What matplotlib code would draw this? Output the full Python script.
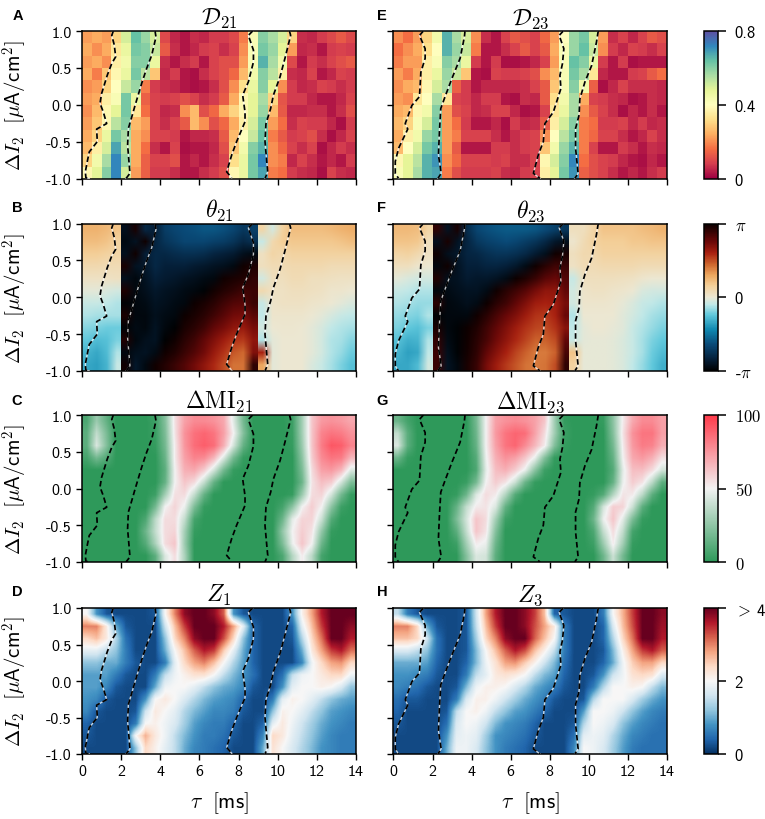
import matplotlib
matplotlib.use("Agg")
import numpy as np
from matplotlib import pyplot as plt
from matplotlib.colors import LinearSegmentedColormap

plt.rcParams['mathtext.fontset'] = 'cm'
plt.rcParams['font.family'] = ['cmss10', 'DejaVu Sans']
plt.rcParams['axes.unicode_minus'] = False

# every grid: 12 rows from dI2 = 1 down to -1, 28 columns from tau = 0 to 14
# D in 0.01 units
D21 = [
    [22,24,22,30,50,64,58,50,10,5,3,6,5,8,8,10,18,42,60,56,50,30,6,5,8,10,13,10],
    [24,20,24,34,46,62,60,52,13,6,3,5,8,9,6,9,20,42,62,58,48,22,5,6,3,8,9,8],
    [22,24,20,36,44,60,60,46,6,3,6,8,3,9,11,11,22,42,66,56,44,10,3,8,6,9,11,13],
    [24,18,28,38,46,62,54,28,5,8,3,2,6,9,11,15,26,44,60,54,36,6,5,9,3,5,9,8],
    [20,22,30,40,52,58,18,8,6,5,3,2,3,6,11,20,32,46,60,48,20,8,5,6,9,8,6,8],
    [22,24,36,42,62,46,14,9,8,9,11,9,6,8,13,24,38,48,56,30,12,8,8,5,3,3,5,9],
    [20,26,38,48,62,34,16,9,5,6,20,26,11,15,24,30,38,48,58,26,13,5,5,6,6,3,6,11],
    [22,28,38,54,60,26,22,9,6,9,13,26,20,11,15,24,36,50,62,22,16,6,9,8,8,5,2,8],
    [24,30,46,62,56,24,20,9,9,8,3,5,5,6,13,26,40,52,64,18,13,8,9,11,6,2,5,9],
    [26,36,50,68,54,24,16,6,3,9,2,3,3,5,11,28,44,60,66,20,15,9,6,9,2,5,8,6],
    [30,44,56,72,58,24,14,9,9,11,3,5,3,6,9,32,46,62,72,20,18,5,9,6,3,5,3,8],
    [38,48,60,72,50,22,14,8,8,6,3,3,6,8,11,38,46,62,68,18,16,8,6,5,2,9,6,5],
]
D23 = [
    [20,16,22,30,44,66,56,50,20,6,3,9,13,11,9,15,22,40,58,62,50,22,6,9,5,9,13,11],
    [16,20,24,32,40,66,58,52,18,3,3,6,9,13,9,13,24,42,58,64,52,20,8,5,9,8,6,9],
    [18,22,22,36,42,60,56,46,8,3,8,2,2,3,5,9,22,42,64,60,46,8,3,8,2,3,3,3],
    [22,18,24,36,46,58,52,28,3,2,9,8,8,9,11,20,26,42,62,56,34,5,3,3,8,9,13,16],
    [20,24,26,38,50,56,14,8,3,5,5,5,5,6,9,13,28,42,60,44,14,2,5,9,6,6,6,5],
    [22,20,34,40,56,34,9,8,5,8,8,3,2,6,5,13,32,44,56,24,9,8,6,5,2,3,6,5],
    [24,26,38,44,60,22,11,9,5,6,9,9,5,2,3,9,34,46,56,20,13,9,6,2,5,3,6,3],
    [26,30,42,50,62,22,16,8,3,3,5,2,8,5,6,13,36,50,60,18,16,8,8,9,5,8,5,6],
    [24,36,44,58,62,22,18,9,9,9,6,3,6,8,9,20,40,54,62,18,15,9,9,6,3,5,9,6],
    [26,40,50,62,66,22,13,3,3,3,8,8,6,8,9,28,44,58,66,18,9,3,3,8,6,3,6,5],
    [38,48,54,66,70,20,15,9,9,9,8,9,6,6,9,38,50,60,72,16,11,9,8,5,3,2,5,3],
    [42,48,56,66,68,18,11,8,8,8,9,6,5,8,9,36,48,62,70,14,11,9,6,3,5,3,6,8],
]

# theta in percent of pi
THETA21 = [
    [26,26,24,20,-92,96,-80,-85,-70,-66,-64,-62,-60,-60,-62,-66,-72,-68,12,-6,14,22,22,22,22,24,26,28],
    [22,22,20,14,-95,-90,98,-82,-74,-70,-66,-66,-66,-68,-70,-74,-80,-76,-8,10,16,18,18,18,18,18,20,22],
    [16,16,14,12,-92,98,-85,-80,-80,-78,-76,-76,-78,-82,-84,-86,-92,-95,5,12,10,14,14,14,14,14,14,14],
    [10,10,8,8,96,-90,-88,-80,-84,-84,-84,-86,-88,-90,-92,-95,98,95,6,8,8,10,10,10,10,8,8,8],
    [4,4,4,5,-92,-96,-90,-84,-86,-88,-90,-92,-94,-96,98,96,94,90,-6,6,6,8,8,6,6,5,4,4],
    [-2,-2,-4,-6,95,-95,-92,-88,-90,-92,-94,-96,-98,97,93,90,86,88,10,4,4,6,6,5,4,2,2,0],
    [-8,-8,-10,-12,-98,-96,-94,-90,-92,-94,-96,99,96,92,86,82,80,88,-8,3,4,4,4,3,2,0,-2,-4],
    [-12,-14,-14,-14,96,-96,-96,-92,-94,-96,99,96,92,86,80,74,72,80,-10,2,2,2,2,0,-2,-5,-8,-10],
    [-18,-20,-22,-22,-98,-94,-96,-90,-96,-99,96,92,86,78,72,66,64,72,-6,0,1,1,0,-2,-5,-10,-12,-14],
    [-24,-28,-26,-20,94,-96,-92,-90,-99,98,92,86,78,70,62,56,54,66,-12,-2,0,0,0,-2,-6,-12,-14,-18],
    [-30,-34,-28,-12,-96,-92,-90,-94,98,94,88,82,74,64,56,48,44,70,60,-2,0,0,0,-2,-6,-12,-16,-22],
    [-34,-36,-30,-8,98,-88,-95,98,93,88,82,74,66,58,50,42,42,90,30,-2,0,0,0,-4,-8,-14,-20,-26],
]
THETA23 = [
    [24,24,22,12,90,-90,96,-78,-66,-62,-60,-58,-58,-58,-60,-64,-68,-72,6,6,12,20,20,20,20,22,24,26],
    [20,20,18,6,-92,96,-90,-82,-72,-68,-66,-64,-66,-70,-74,-80,-88,-92,2,8,14,16,16,16,18,18,20,20],
    [12,14,10,4,98,-92,-88,-82,-80,-76,-74,-74,-76,-80,-86,-92,98,96,6,10,10,14,14,14,14,14,14,14],
    [6,6,2,0,-96,98,-90,-84,-84,-82,-82,-84,-88,-94,98,92,86,88,4,8,8,10,10,10,10,8,8,8],
    [-2,-4,-6,-6,94,-92,-90,-86,-88,-88,-90,-94,99,94,88,80,76,82,-8,6,6,6,6,5,4,2,0,0],
    [-8,-10,-12,-12,-96,-94,-92,-90,-90,-94,98,92,86,80,72,66,66,78,-6,3,4,4,3,2,0,-4,-6,-6],
    [-12,-14,-16,-16,92,-96,-94,-92,-94,99,92,86,78,70,62,60,62,72,-6,2,2,2,1,-1,-4,-8,-10,-12],
    [-16,-18,-20,-12,-98,-96,-96,-96,98,92,84,76,70,62,56,54,60,76,-12,0,0,0,0,-3,-6,-10,-14,-16],
    [-20,-24,-26,-20,96,-96,-98,99,94,86,78,70,62,56,52,50,56,68,-10,-2,0,0,-1,-3,-8,-12,-16,-20],
    [-26,-32,-30,-12,90,-94,-98,98,92,84,74,66,58,52,46,46,50,78,-8,-2,-1,-1,-2,-4,-8,-14,-20,-24],
    [-30,-36,-34,-10,88,-92,-98,97,90,78,68,60,52,46,40,40,46,84,20,-1,-1,-1,-2,-4,-8,-14,-22,-28],
    [-34,-34,-28,-6,88,-90,-96,96,88,72,62,54,48,42,40,42,50,90,14,-1,-1,-1,-2,-4,-10,-16,-24,-32],
]

MI21 = [
    [8,28,14,0,0,0,0,4,22,55,72,78,78,76,70,45,18,0,0,0,0,4,30,62,74,76,74,70],
    [12,38,20,0,0,0,0,3,20,54,76,85,88,84,72,50,22,0,0,0,0,3,30,62,80,84,82,76],
    [12,44,22,0,0,0,0,2,18,52,75,86,90,86,68,42,14,0,0,0,0,2,28,62,82,92,90,80],
    [6,18,10,0,0,0,0,0,15,52,72,80,78,66,44,18,2,0,0,0,0,0,24,60,78,84,82,66],
    [0,0,0,0,0,0,0,0,12,50,68,70,60,42,18,2,0,0,0,0,0,0,20,56,72,74,66,44],
    [0,0,0,0,0,0,0,0,14,50,62,56,38,14,0,0,0,0,0,0,0,0,16,54,64,60,42,20],
    [0,0,0,0,0,0,0,4,30,55,56,38,14,0,0,0,0,0,0,0,0,2,28,56,58,42,18,2],
    [0,0,0,0,0,0,0,18,50,58,48,20,2,0,0,0,0,0,0,0,6,24,50,60,50,24,4,0],
    [0,0,0,0,0,0,8,36,56,56,38,6,0,0,0,0,0,0,0,0,16,46,58,58,40,10,0,0],
    [0,0,0,0,0,0,16,38,56,58,30,2,0,0,0,0,0,0,0,0,26,50,60,54,26,2,0,0],
    [0,0,0,0,0,0,10,32,56,62,28,0,0,0,0,0,0,0,0,0,20,48,62,50,16,0,0,0],
    [0,0,0,0,0,0,0,12,44,56,32,0,0,0,0,0,0,0,0,0,8,34,52,36,6,0,0,0],
]
MI23 = [
    [16,6,0,0,0,0,0,0,18,50,72,76,78,76,72,62,30,2,0,0,0,2,24,52,70,78,78,72],
    [38,12,0,0,0,0,0,0,16,50,74,84,88,86,72,56,30,4,0,0,0,0,22,54,76,84,84,72],
    [44,12,0,0,0,0,0,0,14,50,72,84,88,78,66,52,22,2,0,0,0,0,18,52,74,82,80,68],
    [16,2,0,0,0,0,0,0,10,48,68,76,72,62,48,22,2,0,0,0,0,0,14,50,70,74,68,55],
    [0,0,0,0,0,0,0,0,8,46,64,68,60,48,24,4,0,0,0,0,0,0,10,46,64,64,56,42],
    [0,0,0,0,0,0,0,3,18,50,60,54,40,16,2,0,0,0,0,0,0,0,14,48,60,54,36,12],
    [0,0,0,0,0,0,2,16,44,56,52,34,10,0,0,0,0,0,0,0,2,10,34,54,52,36,12,0],
    [0,0,0,0,0,0,14,38,52,54,44,14,0,0,0,0,0,0,0,0,10,42,60,58,40,12,0,0],
    [0,0,0,0,0,0,20,42,62,56,30,4,0,0,0,0,0,0,0,0,16,48,62,46,20,2,0,0],
    [0,0,0,0,0,0,12,38,62,54,22,0,0,0,0,0,0,0,0,0,8,38,56,38,6,0,0,0],
    [0,0,0,0,0,0,4,30,52,48,16,0,0,0,0,0,0,0,0,0,4,28,52,30,2,0,0,0],
    [0,0,0,0,0,0,0,22,44,42,12,0,0,0,0,0,0,0,0,0,0,16,40,18,0,0,0,0],
]

# Z in 0.1 units
Z1 = [
    [20,8,3,2,2,2,2,3,20,30,38,40,40,38,32,8,3,2,2,2,2,8,21,28,36,40,40,40],
    [30,30,22,10,3,2,2,2,16,26,34,40,40,40,36,28,18,4,2,2,2,4,18,26,34,40,40,38],
    [24,26,22,14,5,2,2,2,12,24,30,38,40,40,33,24,12,4,2,2,2,3,14,24,31,40,40,36],
    [18,18,15,12,6,2,2,2,10,20,26,32,36,34,25,18,10,4,2,2,2,2,10,22,28,34,36,31],
    [12,12,10,10,6,3,2,2,6,18,24,28,30,26,20,14,9,4,2,2,2,2,7,19,24,28,29,24],
    [9,9,9,6,3,2,2,6,15,19,21,23,23,20,15,11,8,5,2,2,5,15,19,20,22,24,24,19],
    [9,9,7,3,2,2,2,10,19,20,20,18,15,12,10,9,7,3,2,2,8,18,20,20,21,20,17,12],
    [8,7,3,2,2,2,8,20,22,20,17,14,11,9,8,7,4,2,2,6,18,21,20,18,15,12,10,9],
    [7,3,2,2,2,3,16,22,20,18,14,11,9,7,7,6,3,2,2,12,21,20,18,15,12,9,8,7],
    [4,2,2,2,2,6,20,21,19,17,13,9,7,6,6,4,2,2,4,18,22,19,16,13,10,8,7,6],
    [3,2,2,2,2,20,27,22,19,15,11,8,6,6,5,3,2,2,7,24,22,18,15,12,9,7,6,6],
    [2,2,2,2,2,12,24,21,18,15,10,7,6,5,4,2,2,2,10,23,20,17,14,11,8,7,6,6],
]
Z3 = [
    [15,6,3,2,2,2,2,3,16,28,36,40,40,38,34,26,4,3,2,2,2,6,20,27,34,40,40,38],
    [30,30,24,10,3,2,2,3,15,26,34,40,40,38,33,28,22,6,2,2,2,4,17,26,33,40,40,37],
    [26,26,24,16,5,2,2,3,13,24,30,38,40,40,32,26,20,6,2,2,2,4,14,24,31,40,40,36],
    [17,17,15,12,5,2,2,3,11,20,26,32,36,33,26,21,15,6,2,2,2,3,11,21,28,34,36,32],
    [10,10,10,9,4,2,2,4,11,19,23,28,29,25,21,16,11,5,2,2,2,4,10,19,25,28,28,24],
    [8,8,7,6,3,2,2,6,15,18,22,23,22,20,15,11,9,4,2,2,3,8,16,19,23,24,23,17],
    [7,6,5,3,2,2,3,11,19,21,21,20,17,14,10,8,6,3,2,2,6,14,20,20,21,20,15,11],
    [5,3,3,2,2,2,6,17,21,21,19,16,13,10,8,6,3,2,2,3,14,20,20,20,17,13,10,8],
    [4,2,2,2,2,3,15,20,21,19,15,12,9,8,6,4,2,2,2,9,20,20,19,16,12,9,7,6],
    [3,2,2,2,2,5,17,20,19,16,11,8,7,6,4,2,2,2,3,14,20,19,17,12,9,7,6,5],
    [2,2,2,2,2,8,18,19,18,13,8,7,6,5,3,2,2,2,5,18,19,18,14,10,7,6,5,5],
    [2,2,2,2,2,10,19,19,17,12,8,6,5,4,2,2,2,2,7,20,19,17,13,9,6,5,5,5],
]

# dashed contours as (tau, dI2)
LEFT_C1 = [(1.6,1),(1.52,.94),(1.65,.81),(1.72,.65),(1.52,.56),(1.29,.4),(1.0,.15),(.92,.02),(1.09,-.1),(1.26,-.255),(.75,-.33),(.78,-.5),(.37,-.64),(.27,-.77),(.17,-.91),(.2,-.99),(.37,-1)]
LEFT_C2 = [(3.73,1),(3.78,.92),(3.56,.67),(3.3,.49),(3.05,.29),(2.71,-.01),(2.57,-.14),(2.37,-.32),(2.33,-.55),(2.4,-.77),(2.45,-.93),(2.25,-1)]
LEFT_C3 = [(8.72,1),(8.5,.94),(8.76,.74),(8.76,.58),(8.5,.31),(8.21,.13),(8.33,-.1),(8.33,-.23),(7.9,-.5),(7.65,-.68),(7.39,-.91),(7.65,-.99)]
LEFT_C4 = [(10.6,1),(10.66,.94),(10.37,.63),(10.12,.38),(9.78,.13),(9.64,-.05),(9.4,-.255),(9.35,-.5),(9.44,-.77),(9.49,-.91),(9.35,-1)]
RIGHT_C1 = [(1.53,1),(1.33,.94),(1.62,.76),(1.62,.63),(1.4,.44),(1.33,.11),(.94,-.01),(.6,-.255),(.73,-.33),(.26,-.59),(.09,-.77),(.09,-.93),(.26,-1)]
RIGHT_C2 = [(3.66,1),(3.63,.92),(3.41,.63),(2.98,.35),(2.64,.11),(2.42,-.05),(2.35,-.37),(2.3,-.68),(2.44,-.93),(2.27,-1)]
RIGHT_C3 = [(8.69,1),(8.48,.94),(8.72,.76),(8.65,.56),(8.52,.4),(8.57,.22),(8.18,-.1),(7.75,-.255),(7.67,-.5),(7.41,-.68),(7.16,-.93),(7.5,-1)]
RIGHT_C4 = [(10.48,1),(10.39,.85),(10.14,.53),(9.8,.31),(9.54,.08),(9.5,-.14),(9.32,-.32),(9.32,-.59),(9.45,-.93),(9.28,-1)]

X_TICKS = [0, 2, 4, 6, 8, 10, 12, 14]
Y_TICKS = [-1.0, -0.5, 0.0, 0.5, 1.0]
Y_LABELS = ['-1.0', '-0.5', '0.0', '0.5', '1.0']

THETA_COLORS = [(0, '#000000'), (.08, '#05203a'), (.18, '#0a4a78'), (.28, '#1088b0'),
                (.38, '#60c8dc'), (.45, '#c0e8e8'), (.5, '#ece8d4'), (.58, '#f4cf98'),
                (.65, '#eda860'), (.72, '#d06a30'), (.8, '#a82010'), (.88, '#6a0808'),
                (1, '#0a0000')]
theta_cmap = LinearSegmentedColormap.from_list('theta', THETA_COLORS)
mi_cmap = LinearSegmentedColormap.from_list('mi', ['#2e995a', '#f2f2f2', '#ff3a4a'])

W, H = 765, 820
COL_X = [(82, 356), (393.5, 667)]
ROW_Y = [(32, 179.5), (224.5, 372), (416, 563), (609, 755)]
CB_X = (704, 718)
# the phase jumps at these columns, so smooth each piece on its own
THETA_PIECES = [(0, 4), (4, 18), (18, 28)]


def px_axes(fig, x, y):
    return fig.add_axes([x[0]/W, 1 - y[1]/H, (x[1]-x[0])/W, (y[1]-y[0])/H])


def draw_contours(ax, curves, halo):
    for c in curves:
        c = np.array(c)
        if halo:
            ax.plot(c[:, 0], c[:, 1], color='white', lw=1.0, alpha=0.75, zorder=3)
        ax.plot(c[:, 0], c[:, 1], color='black', lw=1.25, ls=(0, (3.2, 1.8)), zorder=4)


def heat_panel(fig, col, row, grid, cmap, vmin, vmax, title, interp, curves, halo):
    ax = px_axes(fig, COL_X[col], ROW_Y[row])
    data = np.array(grid, dtype=float)
    if row == 1:
        for a, b in THETA_PIECES:
            im = ax.imshow(data[:, a:b], cmap=cmap, vmin=vmin, vmax=vmax, aspect='auto',
                           extent=[a/2, b/2, -1, 1], origin='upper', interpolation='bilinear',
                           interpolation_stage='rgba')
    else:
        im = ax.imshow(data, cmap=cmap, vmin=vmin, vmax=vmax, aspect='auto',
                       extent=[0, 14, -1, 1], origin='upper', interpolation=interp)
    draw_contours(ax, curves, halo)
    ax.set_xlim(0, 14)
    ax.set_ylim(-1, 1)
    ax.set_xticks(X_TICKS)
    ax.set_yticks(Y_TICKS)
    ax.tick_params(length=4.5, width=1.0, labelsize=11.5, pad=3)
    if row == 3:
        ax.set_xticklabels([str(t) for t in X_TICKS])
        ax.set_xlabel(r'$\tau\ \ [\mathsf{ms}]$', fontsize=15.5, labelpad=8)
    else:
        ax.set_xticklabels([])
    if col == 0:
        ax.set_yticklabels(Y_LABELS)
        ax.set_ylabel(r'$\Delta I_2\ \ [\mu\mathsf{A/cm}^2]$', fontsize=15)
        ax.yaxis.set_label_coords(-0.19, 0.5)
    else:
        ax.set_yticklabels([])
    ax.set_title(title, fontsize=17, pad=5)
    for s in ax.spines.values():
        s.set_linewidth(1.1)
    return im


def colorbar(fig, row, im, ticks, labels, size=12):
    cax = px_axes(fig, CB_X, ROW_Y[row])
    cb = fig.colorbar(im, cax=cax)
    cb.set_ticks(ticks)
    cb.set_ticklabels(labels)
    cax.tick_params(length=6, width=1.1, labelsize=size, pad=6)
    cb.outline.set_linewidth(1.1)


fig = plt.figure(figsize=(W/100, H/100), dpi=100)
left = [LEFT_C1, LEFT_C2, LEFT_C3, LEFT_C4]
right = [RIGHT_C1, RIGHT_C2, RIGHT_C3, RIGHT_C4]

im_d = heat_panel(fig, 0, 0, D21, 'Spectral', 0, 80, r'$\mathcal{D}_{21}$', 'nearest', left, True)
heat_panel(fig, 1, 0, D23, 'Spectral', 0, 80, r'$\mathcal{D}_{23}$', 'nearest', right, True)
im_t = heat_panel(fig, 0, 1, THETA21, theta_cmap, -100, 100, r'$\theta_{21}$', 'bilinear', left, True)
heat_panel(fig, 1, 1, THETA23, theta_cmap, -100, 100, r'$\theta_{23}$', 'bilinear', right, True)
im_m = heat_panel(fig, 0, 2, MI21, mi_cmap, 0, 100, r'$\Delta\mathrm{MI}_{21}$', 'bilinear', left, False)
heat_panel(fig, 1, 2, MI23, mi_cmap, 0, 100, r'$\Delta\mathrm{MI}_{23}$', 'bilinear', right, False)
im_z = heat_panel(fig, 0, 3, Z1, 'RdBu_r', 0, 40, r'$Z_1$', 'bilinear', left, True)
heat_panel(fig, 1, 3, Z3, 'RdBu_r', 0, 40, r'$Z_3$', 'bilinear', right, True)

colorbar(fig, 0, im_d, [0, 40, 80], ['0', '0.4', '0.8'])
colorbar(fig, 1, im_t, [-100, 0, 100], [r'-$\pi$', '0', r'$\pi$'])
colorbar(fig, 2, im_m, [0, 50, 100], ['$0$', '$50$', '$100$'])
colorbar(fig, 3, im_z, [0, 20, 40], ['0', '2', r'$>\,$4'])

for letter, x, y in [('A', 18, 16), ('B', 17, 208), ('C', 17, 401), ('D', 17, 592),
                     ('E', 382, 16), ('F', 382, 208), ('G', 382, 401), ('H', 382, 592)]:
    fig.text(x/W, 1 - y/H, letter, fontsize=10.5, fontweight='bold', family='Liberation Sans',
             ha='center', va='center')

fig.savefig('out.png', dpi=100)
